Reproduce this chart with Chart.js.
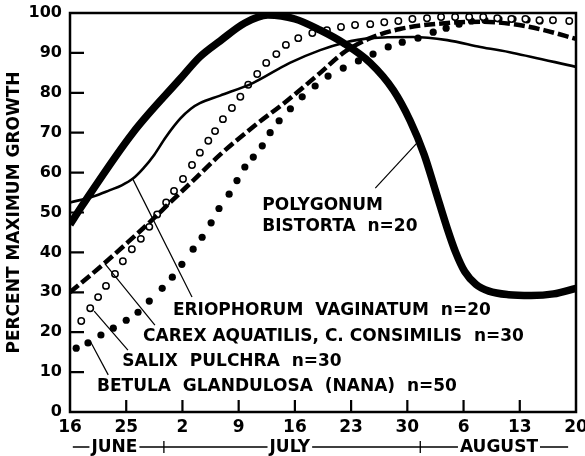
<!DOCTYPE html>
<html>
<head>
<meta charset="utf-8">
<script src="https://cdn.jsdelivr.net/npm/chart.js@4.4.0/dist/chart.umd.min.js"></script>
<style>
  html, body { margin: 0; padding: 0; background: #fff; }
  #wrap { width: 585px; height: 456px; }
</style>
</head>
<body>
<div id="wrap"><canvas id="growthChart" width="585" height="456"></canvas></div>
<script>
// x values are in tick units: 0 = June 16, 1 = June 25, 2 = July 2 ... 9 = Aug 20
var tickLabels = ['16', '25', '2', '9', '16', '23', '30', '6', '13', '20'];

var polygonumX = [0, 0.23, 1.12, 1.96, 2.31, 2.67, 3.11, 3.52, 4.0, 4.45, 4.86, 5.34, 5.75, 6.05, 6.3, 6.5, 6.71, 6.86, 7.02, 7.22, 7.45, 7.8, 8.2, 8.6, 9];
var polygonumY = [47, 52, 70, 83.5, 89, 93, 97.5, 99.5, 98.5, 95.7, 92.5, 87.5, 80.7, 73, 64.5, 55.5, 46, 40, 35.2, 32, 30.3, 29.4, 29.2, 29.6, 31];

var eriophorumX = [0, 0.41, 0.71, 0.92, 1.12, 1.3, 1.5, 1.7, 1.96, 2.15, 2.31, 2.67, 3.26, 3.91, 4.45, 4.86, 5.34, 6.1, 6.71, 7.3, 7.88, 9];
var eriophorumY = [52.5, 54, 55.6, 56.8, 58.5, 61, 64.5, 68.8, 73.5, 76, 77.4, 79.3, 82.5, 87.5, 90.7, 92.5, 93.7, 94, 93.2, 91.5, 90, 86.5];

var carexX = [0, 0.59, 1.01, 1.42, 1.78, 2.19, 2.67, 3.26, 3.86, 4.45, 4.86, 5.34, 5.87, 6.71, 7.3, 7.88, 8.43, 9];
var carexY = [30, 37, 42.3, 47.6, 52.5, 58, 64.5, 71.5, 78, 85, 90, 93.7, 96, 97.5, 97.8, 97.2, 95.7, 93.5];

var salixX = [0.20, 0.36, 0.50, 0.64, 0.80, 0.94, 1.10, 1.26, 1.41, 1.55, 1.71, 1.85, 2.01, 2.17, 2.31, 2.46, 2.58, 2.72, 2.88, 3.03, 3.17, 3.33, 3.49, 3.67, 3.84, 4.06, 4.31, 4.57, 4.82, 5.07, 5.34, 5.59, 5.84, 6.09, 6.35, 6.60, 6.85, 7.10, 7.35, 7.60, 7.85, 8.10, 8.35, 8.59, 8.88];
var salixY = [22.8, 26, 28.8, 31.6, 34.6, 37.8, 40.8, 43.4, 46.4, 49.5, 52.5, 55.4, 58.4, 61.9, 65, 68, 70.4, 73.4, 76.2, 79, 82, 84.7, 87.5, 89.7, 92, 93.7, 95, 95.7, 96.5, 97, 97.2, 97.7, 98, 98.5, 98.7, 99, 99, 99, 99, 98.7, 98.5, 98.5, 98.2, 98.2, 98];

var betulaX = [0.11, 0.32, 0.55, 0.77, 1.00, 1.21, 1.41, 1.64, 1.82, 1.99, 2.19, 2.35, 2.51, 2.65, 2.83, 2.97, 3.11, 3.26, 3.42, 3.56, 3.72, 3.92, 4.13, 4.36, 4.59, 4.86, 5.13, 5.39, 5.66, 5.91, 6.19, 6.46, 6.69, 6.92, 7.14, 7.38, 7.63, 7.88, 8.13, 8.36];
var betulaY = [16, 17.3, 19.3, 21, 23, 25, 27.8, 31, 33.8, 37, 40.8, 43.8, 47.4, 51, 54.6, 58, 61.4, 63.9, 66.7, 70, 73, 76, 79, 81.7, 84.2, 86.2, 88, 89.7, 91.5, 92.7, 93.7, 95.2, 96.2, 97.2, 98, 98.2, 98.5, 98.5, 98.3, 98];

var months = ['JUNE', 'JULY', 'AUGUST'];

// species labels: text lines, anchor (left/middle) and leader line, all in data units
var notes = [
  { lines: ['POLYGONUM', 'BISTORTA  n=20'], x: 3.42, y: [52.1, 46.8], lead: [5.43, 56.1, 6.19, 67.7] },
  { lines: ['ERIOPHORUM  VAGINATUM  n=20'], x: 1.83, y: [25.7], lead: [2.17, 28.8, 1.12, 58.3] },
  { lines: ['CAREX AQUATILIS, C. CONSIMILIS  n=30'], x: 1.30, y: [19.2], lead: [1.51, 21.8, 0.62, 37.2] },
  { lines: ['SALIX  PULCHRA  n=30'], x: 0.93, y: [12.9], lead: [1.03, 15.5, 0.43, 25.3] },
  { lines: ['BETULA  GLANDULOSA  (NANA)  n=50'], x: 0.48, y: [6.6], lead: [0.68, 9.3, 0.37, 17.5] }
];

function pts(xs, ys) {
  return xs.map(function (x, i) { return { x: x, y: ys[i] }; });
}

var FONT = '"DejaVu Sans", sans-serif';

var extras = {
  id: 'extras',
  afterDraw: function (chart) {
    var ctx = chart.ctx;
    var a = chart.chartArea;
    var xs = chart.scales.x, ys = chart.scales.y;
    ctx.save();
    ctx.strokeStyle = '#000';
    ctx.fillStyle = '#000';

    // frame
    ctx.lineWidth = 2.5;
    ctx.strokeRect(a.left, a.top, a.right - a.left, a.bottom - a.top);

    // inward ticks
    ctx.lineWidth = 2.2;
    ctx.beginPath();
    for (var v = 10; v < 100; v += 10) {
      var py = ys.getPixelForValue(v);
      ctx.moveTo(a.left, py);
      ctx.lineTo(a.left + 14, py);
    }
    for (var i = 1; i < tickLabels.length - 1; i++) {
      var px = xs.getPixelForValue(i);
      ctx.moveTo(px, a.bottom);
      ctx.lineTo(px, a.bottom - 12);
    }
    ctx.stroke();

    // month row
    var my = 447;
    ctx.font = 'bold 17px ' + FONT;
    ctx.textBaseline = 'middle';
    ctx.textAlign = 'center';
    var mx = [0.79, 3.91, 7.63].map(function (x) { return xs.getPixelForValue(x); });
    var edges = [xs.getPixelForValue(0.05)];
    months.forEach(function (m, k) {
      ctx.fillText(m, mx[k], my + 1);
      var w = ctx.measureText(m).width / 2 + 2;
      edges.push(mx[k] - w, mx[k] + w);
    });
    edges.push(xs.getPixelForValue(8.86));
    ctx.lineWidth = 1.3;
    ctx.beginPath();
    for (var e = 0; e < edges.length; e += 2) {
      ctx.moveTo(edges[e], my);
      ctx.lineTo(edges[e + 1], my);
    }
    [1.67, 6.23].forEach(function (x) {
      var p = xs.getPixelForValue(x);
      ctx.moveTo(p, my - 6);
      ctx.lineTo(p, my + 6);
    });
    ctx.stroke();

    // species labels
    ctx.textAlign = 'left';
    ctx.font = 'bold 17px ' + FONT;
    notes.forEach(function (n) {
      n.lines.forEach(function (t, k) {
        ctx.fillText(t, xs.getPixelForValue(n.x), ys.getPixelForValue(n.y[k]) + 1);
      });
      ctx.lineWidth = 1.2;
      ctx.beginPath();
      ctx.moveTo(xs.getPixelForValue(n.lead[0]), ys.getPixelForValue(n.lead[1]));
      ctx.lineTo(xs.getPixelForValue(n.lead[2]), ys.getPixelForValue(n.lead[3]));
      ctx.stroke();
    });
    ctx.restore();
  }
};

var ctx = document.getElementById('growthChart').getContext('2d');
var growthChart = new Chart(ctx, {
  type: 'line',
  data: {
    datasets: [{
      label: 'Polygonum bistorta',
      data: pts(polygonumX, polygonumY),
      borderColor: '#000',
      borderWidth: 7.5,
      pointRadius: 0,
      cubicInterpolationMode: 'monotone'
    }, {
      label: 'Eriophorum vaginatum',
      data: pts(eriophorumX, eriophorumY),
      borderColor: '#000',
      borderWidth: 2.6,
      pointRadius: 0,
      cubicInterpolationMode: 'monotone'
    }, {
      label: 'Carex aquatilis, C. consimilis',
      data: pts(carexX, carexY),
      borderColor: '#000',
      borderWidth: 4.5,
      borderDash: [11, 4],
      pointRadius: 0,
      cubicInterpolationMode: 'monotone'
    }, {
      label: 'Salix pulchra',
      data: pts(salixX, salixY),
      showLine: false,
      pointRadius: 3.2,
      pointBorderWidth: 1.5,
      pointBorderColor: '#000',
      pointBackgroundColor: '#fff'
    }, {
      label: 'Betula glandulosa (nana)',
      data: pts(betulaX, betulaY),
      showLine: false,
      pointRadius: 3.6,
      pointBorderWidth: 0,
      pointBackgroundColor: '#000'
    }]
  },
  options: {
    responsive: false,
    devicePixelRatio: 1,
    animation: false,
    layout: { padding: { top: 13, right: 9, left: 0, bottom: 0 } },
    plugins: { legend: { display: false }, tooltip: { enabled: false } },
    scales: {
      x: {
        type: 'linear',
        min: 0,
        max: 9,
        grid: { display: false, drawTicks: false },
        border: { display: false },
        ticks: {
          stepSize: 1,
          autoSkip: false,
          maxRotation: 0,
          padding: 5,
          color: '#000',
          font: { family: FONT, size: 17, weight: 'bold' },
          callback: function (v) { return tickLabels[v]; }
        },
        afterFit: function (s) { s.height = 44; s.paddingLeft = 0; s.paddingRight = 0; }
      },
      y: {
        min: 0,
        max: 100,
        grid: { display: false, drawTicks: false },
        border: { display: false },
        ticks: {
          stepSize: 10,
          padding: 8,
          color: '#000',
          font: { family: FONT, size: 16, weight: 'bold' }
        },
        title: {
          display: true,
          text: 'PERCENT MAXIMUM GROWTH',
          color: '#000',
          font: { family: FONT, size: 17, weight: 'bold' },
          padding: { top: 4, bottom: 0 }
        },
        afterFit: function (s) { s.width = 70; s.paddingTop = 0; s.paddingBottom = 0; }
      }
    }
  },
  plugins: [extras]
});
</script>
</body>
</html>
